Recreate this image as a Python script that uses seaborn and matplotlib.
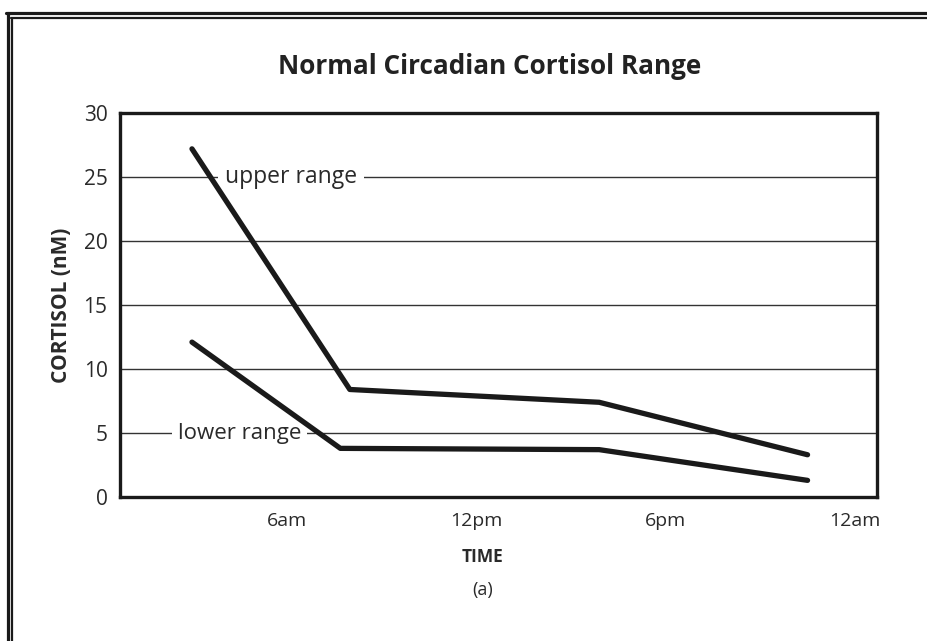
import seaborn as sns
import matplotlib.pyplot as plt
import pandas as pd
from matplotlib.lines import Line2D

# Values
hours_upper = [3.0, 8.0, 15.9, 22.5]
cortisol_upper = [27.2, 8.4, 7.4, 3.3]
hours_lower = [3.0, 7.7, 15.9, 22.5]
cortisol_lower = [12.1, 3.8, 3.7, 1.3]
tick_hours = [6, 12, 18, 24]
tick_labels = ["6am", "12pm", "6pm", "12am"]
y_ticks = [0, 5, 10, 15, 20, 25, 30]

df = pd.DataFrame({
    "hour": hours_upper + hours_lower,
    "cortisol": cortisol_upper + cortisol_lower,
    "range": ["upper"] * len(hours_upper) + ["lower"] * len(hours_lower),
})

sns.set_style("white")
plt.rcParams["font.family"] = ["Open Sans", "DejaVu Sans"]

fig = plt.figure(figsize=(9.28, 6.41), dpi=100)
ax = fig.add_axes([120 / 928, 144 / 641, 757 / 928, 384 / 641])

# Horizontal grid lines
for y in y_ticks[1:-1]:
    ax.axhline(y, color="#333333", lw=1.0, zorder=1)

sns.lineplot(data=df, x="hour", y="cortisol", hue="range",
             palette=["#1a1a1a", "#1a1a1a"], estimator=None, sort=False,
             lw=3.8, legend=False, ax=ax, zorder=4)

# In-plot labels with white box breaking the grid line
ax.text(4.05, 25, "upper range", fontsize=16.5, color="#2a2a2a", va="center", ha="left",
        zorder=3, bbox=dict(facecolor="white", edgecolor="none", pad=5))
ax.text(2.55, 5, "lower range", fontsize=16, color="#2a2a2a", va="center", ha="left",
        zorder=3, bbox=dict(facecolor="white", edgecolor="none", pad=4))

ax.set_xlim(0.72, 24.7)
ax.set_ylim(0, 30)
ax.set_xticks(tick_hours)
ax.set_xticklabels(tick_labels)
ax.set_yticks(y_ticks)
ax.tick_params(axis="both", length=0, labelcolor="#2a2a2a")
ax.tick_params(axis="y", pad=9, labelsize=15)
ax.tick_params(axis="x", pad=11, labelsize=14)

for side in ["left", "right", "top", "bottom"]:
    ax.spines[side].set_visible(True)
    ax.spines[side].set_color("#1a1a1a")
    ax.spines[side].set_linewidth(2.4)

ax.set_xlabel("")
ax.set_ylabel("CORTISOL (nM)", fontsize=15, fontweight="bold", color="#2a2a2a", labelpad=8)

fig.text(490 / 928, 1 - 66 / 641, "Normal Circadian Cortisol Range", fontsize=18.8,
         fontweight="bold", color="#222222", ha="center", va="center")
fig.text(483 / 928, 1 - 557 / 641, "TIME", fontsize=12.5, fontweight="bold",
         color="#2a2a2a", ha="center", va="center")
fig.text(483 / 928, 1 - 590 / 641, "(a)", fontsize=13, color="#2a2a2a",
         ha="center", va="center")

# Double frame round the picture (open at right and bottom)
W, H = 928, 641
fig.add_artist(Line2D([7.5 / W, 7.5 / W], [0, 1 - 12.5 / H], color="#1a1a1a", lw=2.3, transform=fig.transFigure))
fig.add_artist(Line2D([6 / W, 1], [1 - 12.5 / H, 1 - 12.5 / H], color="#1a1a1a", lw=2.3, transform=fig.transFigure))
fig.add_artist(Line2D([12 / W, 12 / W], [0, 1 - 18 / H], color="#1a1a1a", lw=1.6, transform=fig.transFigure))
fig.add_artist(Line2D([11.5 / W, 1], [1 - 18 / H, 1 - 18 / H], color="#1a1a1a", lw=1.6, transform=fig.transFigure))

plt.savefig("out.png", dpi=100)
